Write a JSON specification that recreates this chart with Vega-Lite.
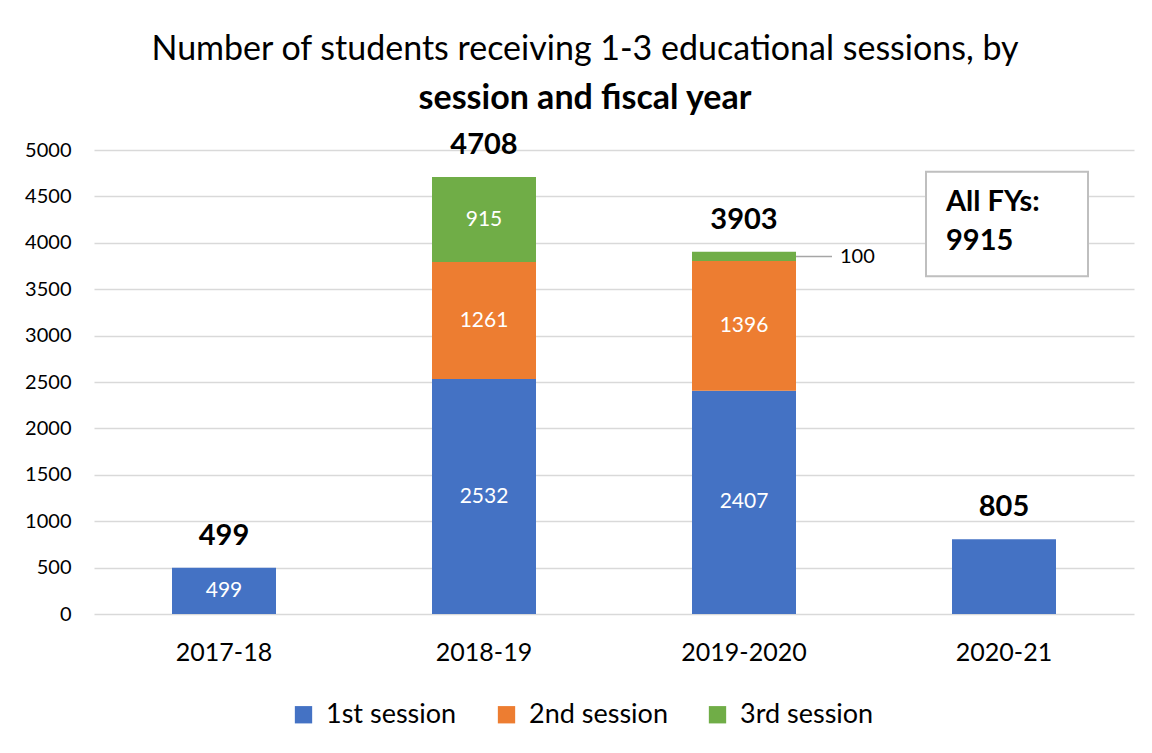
{
  "$schema": "https://vega.github.io/schema/vega-lite/v6.json",
  "width": 1040,
  "height": 464,
  "autosize": {"type": "none"},
  "padding": {"left": 94, "top": 150, "right": 18, "bottom": 139},
  "background": "white",
  "config": {
    "font": "Lato",
    "view": {"stroke": null},
    "axis": {"labelFont": "Lato", "labelColor": "#000000"}
  },
  "title": {
    "text": "Number of students receiving 1-3 educational sessions, by",
    "subtitle": "session and fiscal year",
    "anchor": "middle",
    "frame": "group",
    "dx": -29,
    "offset": 15,
    "fontSize": 34,
    "fontWeight": "normal",
    "color": "#000000",
    "subtitleFontSize": 34,
    "subtitleFontWeight": "bold",
    "subtitleColor": "#000000",
    "subtitlePadding": 15,
    "font": "Lato",
    "subtitleFont": "Lato"
  },
  "data": {
    "values": [
      {"year": "2017-18", "session": "1st session", "value": 499},
      {"year": "2018-19", "session": "1st session", "value": 2532},
      {"year": "2018-19", "session": "2nd session", "value": 1261},
      {"year": "2018-19", "session": "3rd session", "value": 915},
      {"year": "2019-2020", "session": "1st session", "value": 2407},
      {"year": "2019-2020", "session": "2nd session", "value": 1396},
      {"year": "2019-2020", "session": "3rd session", "value": 100},
      {"year": "2020-21", "session": "1st session", "value": 805}
    ]
  },
  "layer": [
    {
      "mark": {"type": "bar"},
      "encoding": {
        "x": {
          "field": "year", "type": "nominal", "sort": null,
          "scale": {"paddingInner": 0.6, "paddingOuter": 0.3},
          "axis": {"title": null, "labelAngle": 0, "labelFontSize": 25, "labelPadding": 26, "ticks": false, "domain": false}
        },
        "y": {
          "field": "value", "type": "quantitative", "stack": "zero",
          "scale": {"domain": [0, 5000], "nice": false},
          "axis": {"title": null, "format": "d", "values": [0,500,1000,1500,2000,2500,3000,3500,4000,4500,5000], "labelFontSize": 20, "labelPadding": 23, "ticks": false, "domain": false, "gridColor": "#D9D9D9", "gridWidth": 1.3}
        },
        "color": {
          "field": "session", "type": "nominal",
          "scale": {"domain": ["1st session", "2nd session", "3rd session"], "range": ["#4472C4", "#ED7D31", "#70AD47"]},
          "legend": {
            "title": null, "orient": "none", "direction": "horizontal",
            "legendX": 196, "legendY": 551, "padding": 0,
            "symbolType": "square", "symbolSize": 300, "symbolStrokeWidth": 0,
            "labelFontSize": 27, "labelFont": "Lato", "labelColor": "#000000",
            "labelOffset": 9, "columnPadding": 36
          }
        },
        "order": {"field": "session", "sort": "ascending"}
      }
    },
    {
      "transform": [
        {"stack": "value", "groupby": ["year"], "sort": [{"field": "session", "order": "ascending"}], "as": ["v0", "v1"]},
        {"calculate": "(datum.v0 + datum.v1) / 2", "as": "mid"},
        {"filter": "datum.year !== '2020-21' && datum.value >= 200"}
      ],
      "mark": {"type": "text", "color": "white", "fontSize": 21, "baseline": "middle"},
      "encoding": {
        "x": {"field": "year", "type": "nominal", "sort": null},
        "y": {"field": "mid", "type": "quantitative"},
        "text": {"field": "value", "type": "quantitative"}
      }
    },
    {
      "transform": [
        {"stack": "value", "groupby": ["year"], "sort": [{"field": "session", "order": "ascending"}], "as": ["v0", "v1"]},
        {"calculate": "(datum.v0 + datum.v1) / 2", "as": "mid"},
        {"filter": "datum.value < 200"}
      ],
      "mark": {"type": "text", "color": "#000000", "fontSize": 20, "baseline": "middle", "align": "left", "dx": 96, "dy": 1},
      "encoding": {
        "x": {"field": "year", "type": "nominal", "sort": null},
        "y": {"field": "mid", "type": "quantitative"},
        "text": {"field": "value", "type": "quantitative"}
      }
    },
    {
      "transform": [
        {"stack": "value", "groupby": ["year"], "sort": [{"field": "session", "order": "ascending"}], "as": ["v0", "v1"]},
        {"calculate": "(datum.v0 + datum.v1) / 2", "as": "mid"},
        {"filter": "datum.value < 200"}
      ],
      "mark": {"type": "tick", "orient": "horizontal", "color": "#A6A6A6", "size": 36, "thickness": 1.5, "xOffset": 70, "opacity": 1},
      "encoding": {
        "x": {"field": "year", "type": "nominal", "sort": null},
        "y": {"field": "mid", "type": "quantitative"}
      }
    },
    {
      "mark": {"type": "text", "color": "#000000", "fontSize": 29, "fontWeight": "bold", "baseline": "middle", "dy": -32},
      "encoding": {
        "x": {"field": "year", "type": "nominal", "sort": null},
        "y": {"field": "value", "type": "quantitative", "aggregate": "sum"},
        "text": {"field": "value", "type": "quantitative", "aggregate": "sum"}
      }
    },
    {
      "data": {"values": [{"year": "2020-21", "lo": 3640, "hi": 4765, "label": "All FYs:\n9915"}]},
      "mark": {"type": "rect", "fill": "white", "stroke": "#BFBFBF", "strokeWidth": 2, "width": 162, "xOffset": 3},
      "encoding": {
        "x": {"field": "year", "type": "nominal", "sort": null},
        "y": {"field": "lo", "type": "quantitative"},
        "y2": {"field": "hi"}
      }
    },
    {
      "data": {"values": [{"year": "2020-21", "lo": 3640, "hi": 4765, "label": "All FYs:\n9915"}]},
      "mark": {"type": "text", "color": "#000000", "fontSize": 29, "fontWeight": "bold", "align": "left", "baseline": "top", "lineBreak": "\n", "lineHeight": 39, "dx": -58, "dy": 16},
      "encoding": {
        "x": {"field": "year", "type": "nominal", "sort": null},
        "y": {"field": "hi", "type": "quantitative"},
        "text": {"field": "label", "type": "nominal"}
      }
    }
  ]
}
